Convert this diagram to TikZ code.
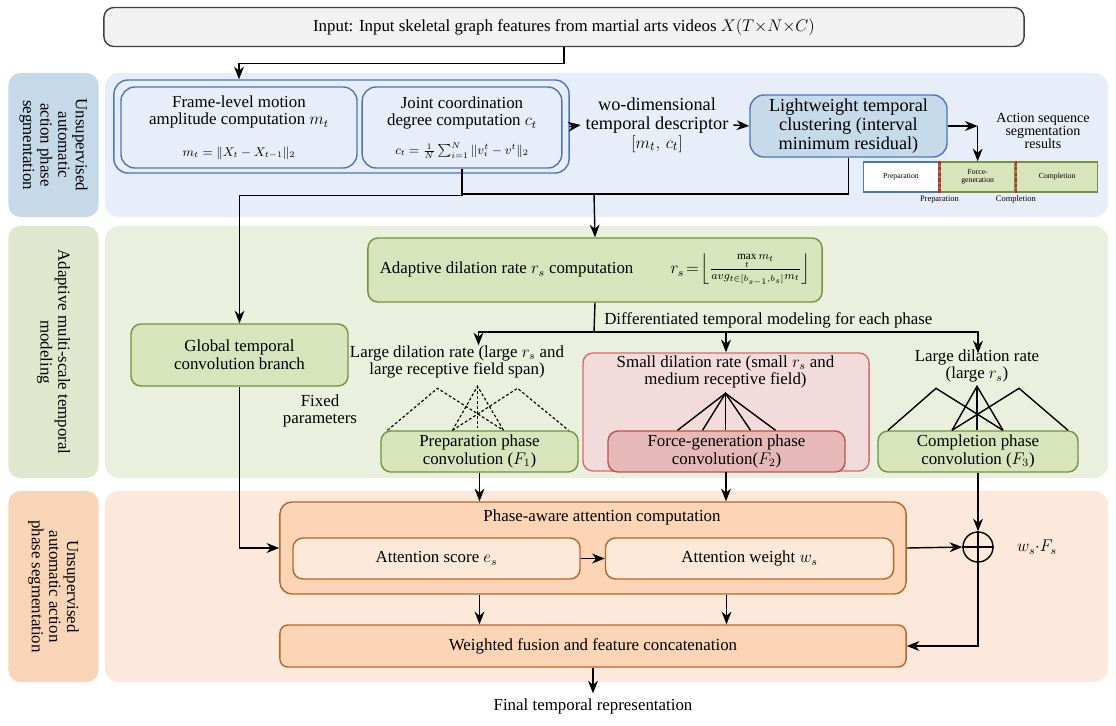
\documentclass[tikz,border=0pt]{standalone}
\usepackage{amsmath}
\usepackage{amssymb}
\usepackage{fontspec}
\setmainfont{Liberation Serif}
\usetikzlibrary{shapes, arrows.meta, positioning, calc}

\definecolor{bandblue}{HTML}{E8EEF9}
\definecolor{labelblue}{HTML}{C5D9E9}
\definecolor{blueline}{HTML}{4A76C0}
\definecolor{clusterblue}{HTML}{C7DAEA}
\definecolor{bandgreen}{HTML}{EAF0DE}
\definecolor{labelgreen}{HTML}{DFE8CE}
\definecolor{greenfill}{HTML}{D7E4BC}
\definecolor{greenline}{HTML}{76923C}
\definecolor{redfill}{HTML}{F2DCDB}
\definecolor{redline}{HTML}{D9696A}
\definecolor{forcefill}{HTML}{E6B9B8}
\definecolor{forceline}{HTML}{C0504D}
\definecolor{bandorange}{HTML}{FCE9DC}
\definecolor{labelorange}{HTML}{F9D4B7}
\definecolor{orangefill}{HTML}{FBD5B5}
\definecolor{orangelight}{HTML}{FDE9D9}
\definecolor{orangeline}{HTML}{B9642A}
\definecolor{cutred}{HTML}{E02020}

\begin{document}
\begin{tikzpicture}[
        x=0.025cm, y=-0.025cm,
        font=\fontsize{12}{12.5}\selectfont,
        inputbox/.style={rectangle, draw=black!75, fill=black!5, line width=1pt, rounded corners=0.25cm, minimum width=23cm, minimum height=0.975cm, inner sep=0pt},
        bandbg/.style={rectangle, fill=#1, rounded corners=0.35cm, minimum width=25.075cm, inner sep=0pt},
        bandlabel/.style={rectangle, fill=#1, rounded corners=0.3cm, rotate=-90, align=center, minimum height=2.25cm, inner sep=0pt},
        blueblock/.style={rectangle, draw=blueline, fill=bandblue, line width=1pt, rounded corners=0.35cm, align=center, inner sep=0pt},
        greenblock/.style={rectangle, draw=greenline, fill=greenfill, line width=1pt, rounded corners=0.25cm, align=center, inner sep=0pt},
        redblock/.style={rectangle, draw=redline, fill=redfill, line width=1pt, rounded corners=0.25cm, align=center, inner sep=0pt},
        orangeblock/.style={rectangle, draw=orangeline, fill=orangefill, line width=1pt, rounded corners=0.3cm, align=center, inner sep=0pt},
        segbox/.style={rectangle, draw=#1, line width=1pt, font=\fontsize{5.5}{6}\selectfont, minimum height=0.75cm, inner sep=0pt, align=center},
        segnote/.style={font=\fontsize{6}{7}\selectfont, inner sep=1pt},
        cut/.style={draw=cutred, line width=1.6pt, dash pattern=on 2.5pt off 1.5pt},
        oplus/.style={circle, draw, line width=1pt, minimum size=0.75cm, inner sep=0pt},
        arrow/.style={line width=1pt, -{Stealth[length=9pt, width=7pt]}},
        wire/.style={line width=1pt},
        fandash/.style={line width=0.8pt, dash pattern=on 2pt off 1.5pt},
        fanline/.style={line width=1pt}
    ]
    \useasboundingbox (0,0) rectangle (1116,725);

    % Input
    \node [inputbox] (input) at (564,27) {Input: Input skeletal graph features from martial arts videos $X(T{\times}N{\times}C)$};

    % Background bands
    \node [bandbg=bandblue, minimum height=3.6cm] (band1) at (606.5,145) {};
    \node [bandlabel=labelblue, minimum width=3.6cm] (lab1) at (53.5,145) {Unsupervised\\automatic\\action phase\\segmentation};
    \node [bandbg=bandgreen, minimum height=6.3cm] (band2) at (606.5,352) {};
    \node [bandlabel=labelgreen, minimum width=6.3cm] (lab2) at (53.5,352) {Adaptive multi-scale temporal\\modeling};
    \node [bandbg=bandorange, minimum height=4.775cm] (band3) at (606.5,586.5) {};
    \node [bandlabel=labelorange, minimum width=4.775cm] (lab3) at (53.5,586.5) {Unsupervised\\automatic action\\phase segmentation};

    % Stage 1: phase segmentation
    \node [blueblock, minimum width=11.375cm, minimum height=2.325cm] (group) at (341.5,126.5) {};
    \node [blueblock, minimum width=5.9cm, minimum height=2.025cm] (motion) at (239,127.5) {Frame-level motion\\amplitude computation $m_t$\\[10pt]{\small $m_t=\|X_t-X_{t-1}\|_2$}};
    \node [blueblock, minimum width=4.99cm, minimum height=2.025cm] (joint) at (462,127.5) {Joint coordination\\degree computation $c_t$\\[8pt]{\small $c_t=\frac{1}{N}\sum_{i=1}^{N}\|v_i^t-v^t\|_2$}};
    \node [align=center, font=\fontsize{13}{13.5}\selectfont] (descr) at (657,125) {wo-dimensional\\temporal descriptor\\$[m_t,\,c_t]$};
    \node [blueblock, fill=clusterblue, minimum width=4.925cm, minimum height=1.55cm, font=\fontsize{13}{13.5}\selectfont] (cluster) at (848.5,126) {Lightweight temporal\\clustering (interval\\minimum residual)};
    \node [align=center, font=\fontsize{10}{9.5}\selectfont] (results) at (1043,131) {Action sequence\\segmentation\\results};

    % Segmentation bar
    \node [segbox=blueline, fill=white, minimum width=1.8875cm] (segprep) at (901,177) {Preparation};
    \node [segbox=greenline, fill=greenfill, minimum width=1.875cm, right=0pt of segprep] (segforce) {Force-\\generation};
    \node [segbox=greenline, fill=greenfill, minimum width=2.025cm, right=0pt of segforce] (segcompl) {Completion};
    \draw [cut] (segprep.north east) -- (segprep.south east);
    \draw [cut] (segforce.north east) -- (segforce.south east);
    \node [segnote, below=1pt of segprep.south east] (noteprep) {Preparation};
    \node [segnote, below=1pt of segforce.south east] (notecompl) {Completion};

    % Stage 2: multi-scale modeling
    \node [greenblock, minimum width=11.35cm, minimum height=1.6cm] (adaptive) at (595,270) {Adaptive dilation rate $r_s$ computation\hspace{2.2em}$r_s\!=\!\left\lfloor\frac{\max\limits_t m_t}{avg_{t\in[b_{s-1},b_s]}m_t}\right\rfloor$};
    \node [greenblock, minimum width=5.425cm, minimum height=1.55cm] (global) at (239.5,355) {Global temporal\\convolution branch};
    \node [align=center] (fixed) at (320,411) {Fixed\\parameters};
    \node [anchor=west, inner sep=0pt] (diff) at (604,320) {Differentiated temporal modeling for each phase};

    \node [align=center] (preptext) at (457,362) {Large dilation rate (large $r_s$ and\\large receptive field span)};
    \node [greenblock, minimum width=4.925cm, minimum height=1.025cm] (prep) at (479.5,451.5) {Preparation phase\\convolution ($F_1$)};

    \node [redblock, minimum width=7.15cm, minimum height=2.95cm] (redgroup) at (726,412) {};
    \node [align=center] (forcetext) at (725.5,372) {Small dilation rate (small $r_s$ and\\medium receptive field)};
    \node [redblock, fill=forcefill, draw=forceline, minimum width=5.925cm, minimum height=1.025cm] (force) at (726.5,451.5) {Force-generation phase\\convolution($F_2$)};

    \node [align=center] (compltext) at (977,366) {Large dilation rate\\(large $r_s$)};
    \node [greenblock, minimum width=5cm, minimum height=1.025cm] (compl) at (978,451.5) {Completion phase\\convolution ($F_3$)};

    % Receptive field fans
    \draw [fandash] ($(prep.north)+(-92,0)$) -- ($(prep.north)+(-42,-42)$) -- ($(prep.north)+(24,0)$);
    \draw [fandash] ($(prep.north)+(-27,0)$) -- ($(prep.north)+(38,-42)$) -- ($(prep.north)+(89,0)$);
    \draw [fandash] ($(prep.north)+(-27,0)$) -- ($(prep.north)+(-2,-44)$) -- ($(prep.north)+(24,0)$);
    \draw [fandash] ($(prep.north)+(-2,-44)$) -- ($(prep.north)+(-2,0)$);

    \draw [fanline] ($(force.north)+(-49,0)$) -- ($(force.north)+(-1,-37)$) -- ($(force.north)+(49,0)$);
    \draw [fanline] ($(force.north)+(-24,0)$) -- ($(force.north)+(-1,-37)$) -- ($(force.north)+(24,0)$);
    \draw [fanline] ($(force.north)+(-1,-37)$) -- ($(force.north)+(-1,0)$);

    \draw [fanline] ($(compl.north)+(-90,0)$) -- ($(compl.north)+(-42,-42)$) -- ($(compl.north)+(25,0)$);
    \draw [fanline] ($(compl.north)+(-26,0)$) -- ($(compl.north)+(41,-42)$) -- ($(compl.north)+(90,0)$);
    \draw [fanline] ($(compl.north)+(-26,0)$) -- ($(compl.north)+(-1,-44)$) -- ($(compl.north)+(25,0)$);
    \draw [fanline] ($(compl.north)+(-1,-44)$) -- ($(compl.north)+(-1,0)$);

    % Stage 3: attention fusion
    \node [orangeblock, minimum width=15.65cm, minimum height=2.3cm] (phase) at (593,548) {};
    \node (phasetitle) at (602,517) {Phase-aware attention computation};
    \node [orangeblock, fill=orangelight, rounded corners=0.25cm, minimum width=7.175cm, minimum height=1.025cm] (score) at (436.5,558.5) {Attention score $e_s$};
    \node [orangeblock, fill=orangelight, rounded corners=0.25cm, minimum width=7.2cm, minimum height=1.025cm] (weight) at (749.5,558.5) {Attention weight $w_s$};
    \node [oplus] (sum) at (978,547) {};
    \draw [wire] (sum.north) -- (sum.south) (sum.west) -- (sum.east);
    \node (wsfs) at (1037,547) {$w_s{\cdot}F_s$};
    \node [orangeblock, rounded corners=0.2cm, minimum width=15.65cm, minimum height=1.05cm] (weighted) at (593,646) {Weighted fusion and feature concatenation};
    \node (final) at (593,706) {Final temporal representation};

    % Connecting Lines
    \draw [arrow] (input.south) -- ++(0,16) -| (motion.north |- group.north);
    \coordinate (split) at (594,194);
    \draw [wire] (cluster.south) |- (split);
    \draw [wire] (joint.south) |- (split);
    \draw [arrow] (joint.south) -- ++(0,27) -| (global.north);
    \draw [arrow] (split) -- (adaptive.north);
    \draw [arrow] (group.east) -- (descr.west);
    \draw [arrow] (descr.east) -- (cluster.west);
    \coordinate (segturn) at (segforce.north |- cluster.east);
    \draw [arrow] (cluster.east) -- (segturn);
    \draw [arrow] (segturn) -- (segforce.north);

    \coordinate (branch) at (594,332);
    \draw [wire] (adaptive.south) -- (branch);
    \draw [arrow] (branch) -| ($(prep.north)+(-1,-85)$);
    \draw [arrow] (branch) -| (redgroup.north);
    \draw [arrow] (branch) -| ($(compl.north)+(0,-77)$);

    \draw [arrow] (prep.south) -- (prep.south |- phase.north);
    \draw [arrow] (redgroup.south) -- (redgroup.south |- phase.north);
    \draw [arrow] (compl.south) -- (sum.north);
    \draw [arrow] (global.south) |- (phase.west);
    \draw [arrow] (score.east) -- (weight.west);
    \draw [arrow] (phase.east) -- (sum.west);
    \draw [arrow] (sum.south) |- (weighted.east);
    \draw [arrow] (phase.south -| prep.south) -- (weighted.north -| prep.south);
    \draw [arrow] (phase.south -| force.south) -- (weighted.north -| force.south);
    \draw [arrow] (weighted.south) -- (final.north);

\end{tikzpicture}
\end{document}
